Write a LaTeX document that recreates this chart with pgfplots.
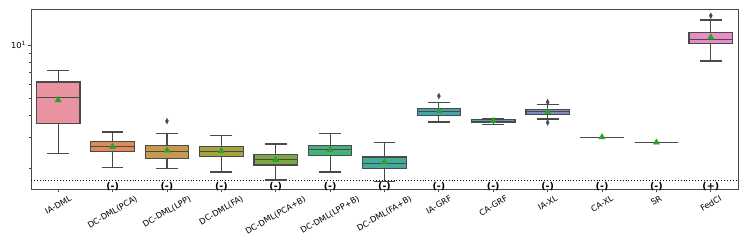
\documentclass[border=0pt]{standalone}
\usepackage{pgfplots}
\pgfplotsset{compat=1.18}
\usepgfplotslibrary{statistics}
\usetikzlibrary{calc}
\usepackage{graphicx}
\usepackage{fontspec}
\setmainfont{DejaVu Sans}
\definecolor{c0}{HTML}{E8939F}
\definecolor{c1}{HTML}{DE8B5C}
\definecolor{c2}{HTML}{C49B4E}
\definecolor{c3}{HTML}{A4A241}
\definecolor{c4}{HTML}{7DA543}
\definecolor{c5}{HTML}{48B07C}
\definecolor{c6}{HTML}{44AB99}
\definecolor{c7}{HTML}{43A6AD}
\definecolor{c8}{HTML}{47A3C4}
\definecolor{c9}{HTML}{7C90C6}
\definecolor{c10}{HTML}{A88ED4}
\definecolor{c11}{HTML}{CE86CF}
\definecolor{c12}{HTML}{E58DC4}
\definecolor{edge}{HTML}{4A4A4A}
\definecolor{meangreen}{HTML}{2CA02C}
\newcommand{\rl}[1]{\rotatebox{30}{#1}}
\pgfplotsset{
  bx/.style={draw=edge, line width=1.2pt, mark=diamond*, mark options={fill=edge,draw=edge,yscale=1.4,line width=0.4pt}, mark size=2pt},
  boxplot/every box/.style={draw=edge, line width=1.2pt},
  boxplot/every whisker/.style={draw=edge, line width=1.2pt},
  boxplot/every median/.style={draw=edge, line width=1.2pt},
}
\begin{document}
\begin{tikzpicture}
\begin{axis}[
  name=ax,
  width=707pt, height=180pt, scale only axis,
  ymode=log, log basis y=10,
  xmin=-0.5, xmax=12.5, ymin=1.53, ymax=16,
  ytick={10}, yticklabels={10\textsuperscript{1}},
  minor ytick={2,3,4,5,6,7,8,9},
  xtick={0,...,12},
  xticklabels={\rl{IA-DML},\rl{DC-DML(PCA)},\rl{DC-DML(LPP)},\rl{DC-DML(FA)},\rl{DC-DML(PCA+B)},\rl{DC-DML(LPP+B)},\rl{DC-DML(FA+B)},\rl{IA-GRF},\rl{CA-GRF},\rl{IA-XL},\rl{CA-XL},\rl{SR},\rl{FedCI}},
  xticklabel style={anchor=north, inner sep=1pt, yshift=-1.5pt},
  yticklabel style={inner sep=1.5pt},
  tick align=outside,
  major tick length=3.5pt, minor tick length=2pt,
  tick style={edge, line width=0.8pt},
  axis line style={edge, line width=0.8pt},
  ticklabel style={font=\fontsize{8.2}{10}\selectfont},
  xtick pos=bottom, ytick pos=left,
  clip=false,
  boxplot/draw direction=y,
]
\addplot[black, dotted, line width=0.9pt] coordinates {(-0.5,1.72) (12.5,1.72)};

\addplot[fill=c0, bx, boxplot prepared={draw position=0, lower whisker=2.42, lower quartile=3.58, median=5.07, upper quartile=6.17, upper whisker=7.15, box extend=0.8, whisker extend=0.4}] coordinates {};
\addplot[fill=c1, bx, boxplot prepared={draw position=1, lower whisker=2.03, lower quartile=2.50, median=2.67, upper quartile=2.84, upper whisker=3.22, box extend=0.8, whisker extend=0.4}] coordinates {};
\addplot[fill=c2, bx, boxplot prepared={draw position=2, lower whisker=1.99, lower quartile=2.27, median=2.50, upper quartile=2.71, upper whisker=3.17, box extend=0.8, whisker extend=0.4}] coordinates {(2,3.71)};
\addplot[fill=c3, bx, boxplot prepared={draw position=3, lower whisker=1.91, lower quartile=2.33, median=2.50, upper quartile=2.65, upper whisker=3.06, box extend=0.8, whisker extend=0.4}] coordinates {};
\addplot[fill=c4, bx, boxplot prepared={draw position=4, lower whisker=1.72, lower quartile=2.09, median=2.25, upper quartile=2.41, upper whisker=2.75, box extend=0.8, whisker extend=0.4}] coordinates {};
\addplot[fill=c5, bx, boxplot prepared={draw position=5, lower whisker=1.91, lower quartile=2.36, median=2.55, upper quartile=2.71, upper whisker=3.16, box extend=0.8, whisker extend=0.4}] coordinates {};
\addplot[fill=c6, bx, boxplot prepared={draw position=6, lower whisker=1.68, lower quartile=2.00, median=2.14, upper quartile=2.32, upper whisker=2.81, box extend=0.8, whisker extend=0.4}] coordinates {};
\addplot[fill=c7, bx, boxplot prepared={draw position=7, lower whisker=3.67, lower quartile=4.01, median=4.21, upper quartile=4.38, upper whisker=4.75, box extend=0.8, whisker extend=0.4}] coordinates {(7,5.14)};
\addplot[fill=c8, bx, boxplot prepared={draw position=8, lower whisker=3.55, lower quartile=3.63, median=3.70, upper quartile=3.77, upper whisker=3.84, box extend=0.8, whisker extend=0.4}] coordinates {};
\addplot[fill=c9, bx, boxplot prepared={draw position=9, lower whisker=3.81, lower quartile=4.05, median=4.19, upper quartile=4.32, upper whisker=4.59, box extend=0.8, whisker extend=0.4}] coordinates {(9,4.75) (9,3.64)};
\addplot[fill=c10, bx, boxplot prepared={draw position=10, lower whisker=3.01, lower quartile=3.01, median=3.01, upper quartile=3.01, upper whisker=3.01, box extend=0.8, whisker extend=0.4}] coordinates {};
\addplot[fill=c11, bx, boxplot prepared={draw position=11, lower whisker=2.81, lower quartile=2.81, median=2.81, upper quartile=2.81, upper whisker=2.81, box extend=0.8, whisker extend=0.4}] coordinates {};
\addplot[fill=c12, bx, boxplot prepared={draw position=12, lower whisker=8.12, lower quartile=10.22, median=10.77, upper quartile=11.8, upper whisker=13.86, box extend=0.8, whisker extend=0.4}] coordinates {(12,14.66)};

\addplot[only marks, mark=triangle*, mark size=3.5pt, color=meangreen] coordinates {
(0,4.88) (1,2.66) (2,2.53) (3,2.51) (4,2.24) (5,2.55) (6,2.18) (7,4.23) (8,3.72) (9,4.17) (10,3.01) (11,2.81) (12,11.06)};

\pgfplotsinvokeforeach{1,...,11}{
  \node[font=\bfseries\fontsize{9.5}{10}\selectfont, inner sep=0pt] at (axis cs:#1,1.58) {(-)};
}
\node[font=\bfseries\fontsize{9.5}{10}\selectfont, inner sep=0pt] at (axis cs:12,1.58) {(+)};
\end{axis}
\pgfresetboundingbox
\path ($(ax.south west)+(-31pt,-60pt)$) rectangle ($(ax.north east)+(9pt,9pt)$);
\end{tikzpicture}
\end{document}
